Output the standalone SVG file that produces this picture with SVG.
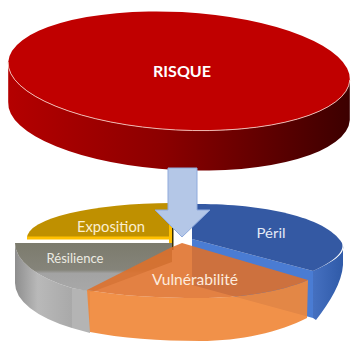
<svg xmlns="http://www.w3.org/2000/svg" width="351" height="341" viewBox="0 0 351 341">
<defs>
<linearGradient id="redSide" x1="0" y1="0" x2="1" y2="0">
<stop offset="0" stop-color="#b40000"/>
<stop offset="0.45" stop-color="#8c0000"/>
<stop offset="1" stop-color="#3c0000"/>
</linearGradient>
<linearGradient id="graySide" x1="0" y1="0" x2="1" y2="0">
<stop offset="0" stop-color="#8e8e8e"/>
<stop offset="0.4" stop-color="#b9b9b9"/>
<stop offset="1" stop-color="#a9a9a9"/>
</linearGradient>
<linearGradient id="grayTop" x1="0" y1="243" x2="0" y2="292" gradientUnits="userSpaceOnUse">
<stop offset="0" stop-color="#7c7b6d"/>
<stop offset="0.55" stop-color="#85847a"/>
<stop offset="0.62" stop-color="#a3a3a3"/>
<stop offset="1" stop-color="#a8a8a8"/>
</linearGradient>
<linearGradient id="blueSide" x1="0" y1="0" x2="1" y2="0">
<stop offset="0" stop-color="#4570c0"/>
<stop offset="1" stop-color="#2f5aa8"/>
</linearGradient>
<style>
.lbl{font-family:Lato,"Liberation Sans",sans-serif;text-anchor:middle}
</style>
</defs>
<rect width="351" height="341" fill="#ffffff"/>

<g id="risque">
<path d="M8.2,62 A171,59 3 0 0 349.8,80 L349.8,120 A171,59 3 0 1 8.2,102 Z" fill="url(#redSide)"/>
<ellipse cx="179" cy="71" rx="171" ry="59" transform="rotate(3 179 71)" fill="#c00000"/>
<path d="M8.2,62 A171,59 3 0 0 349.8,80" fill="none" stroke="#f3c4bc" stroke-width="0.9"/>
<text class="lbl" x="182" y="77" font-size="16" font-weight="bold" fill="#ffffff" textLength="58" lengthAdjust="spacingAndGlyphs">RISQUE</text>
</g>

<g id="exposition">
<path d="M27,238 A145,35 0 0 1 172,203 L172,238 Z" fill="#bf9000"/>
<rect x="27" y="236.5" width="145" height="3" fill="#ffc000"/>
<rect x="169" y="222" width="3" height="24" fill="#ffc000"/>
<rect x="172" y="222" width="1.5" height="28" fill="#3a3000"/>
<text class="lbl" x="111" y="232" font-size="15" fill="#fbefcf" textLength="68" lengthAdjust="spacingAndGlyphs">Exposition</text>
</g>

<g id="resilience">
<path d="M15,243 A155,58 0 0 0 72,288 L72,328 A155,58 0 0 1 15,283 Z" fill="url(#graySide)"/>
<path d="M72,288 L90,291 L90,333 L72,328 Z" fill="#b4b4b4"/>
<path d="M15,243 L172,243 L172,262 L92,292 L72,288 A155,58 0 0 1 15,243 Z" fill="url(#grayTop)"/>
<text class="lbl" x="75" y="263" font-size="13" fill="#ecebe2" textLength="57" lengthAdjust="spacingAndGlyphs">Résilience</text>
</g>

<g id="peril">
<path d="M192,239 L313,271 L313,318 L192,285 Z" fill="#4a7cd3"/>
<path d="M313,271 C333,262 345,254 343,246 L343,265 C342,282 330,302 316,320 L313,318 Z" fill="url(#blueSide)"/>
<path d="M192,204 C255,203 325,215 342,243 C345,252 333,262 313,271 L192,239 Z" fill="#3459a3"/>
<text class="lbl" x="271" y="238" font-size="14" fill="#e3eaf6" textLength="29" lengthAdjust="spacingAndGlyphs">Péril</text>
</g>

<g id="vulnerabilite">
<path d="M87,290 C120,296 160,298 200,298 C240,298 280,292 308,280 L307,318 C280,332 240,341 200,341 C160,341 120,338 90,332 Z" fill="#f0883a" fill-opacity="0.92"/>
<path d="M182,243 L308,280 C280,292 240,298 200,298 C160,298 120,296 87,290 L170,248 Z" fill="#df7029" fill-opacity="0.88"/>
<text class="lbl" x="195" y="285" font-size="15" fill="#fdebdc" textLength="86" lengthAdjust="spacingAndGlyphs">Vulnérabilité</text>
</g>

<g id="connectors">
<path d="M168,168 L197,168 L197,210 L210,210 L182,237 L155,210 L168,210 Z" fill="#b4c7e7" stroke="#8faadc" stroke-width="1"/>
</g>
</svg>
